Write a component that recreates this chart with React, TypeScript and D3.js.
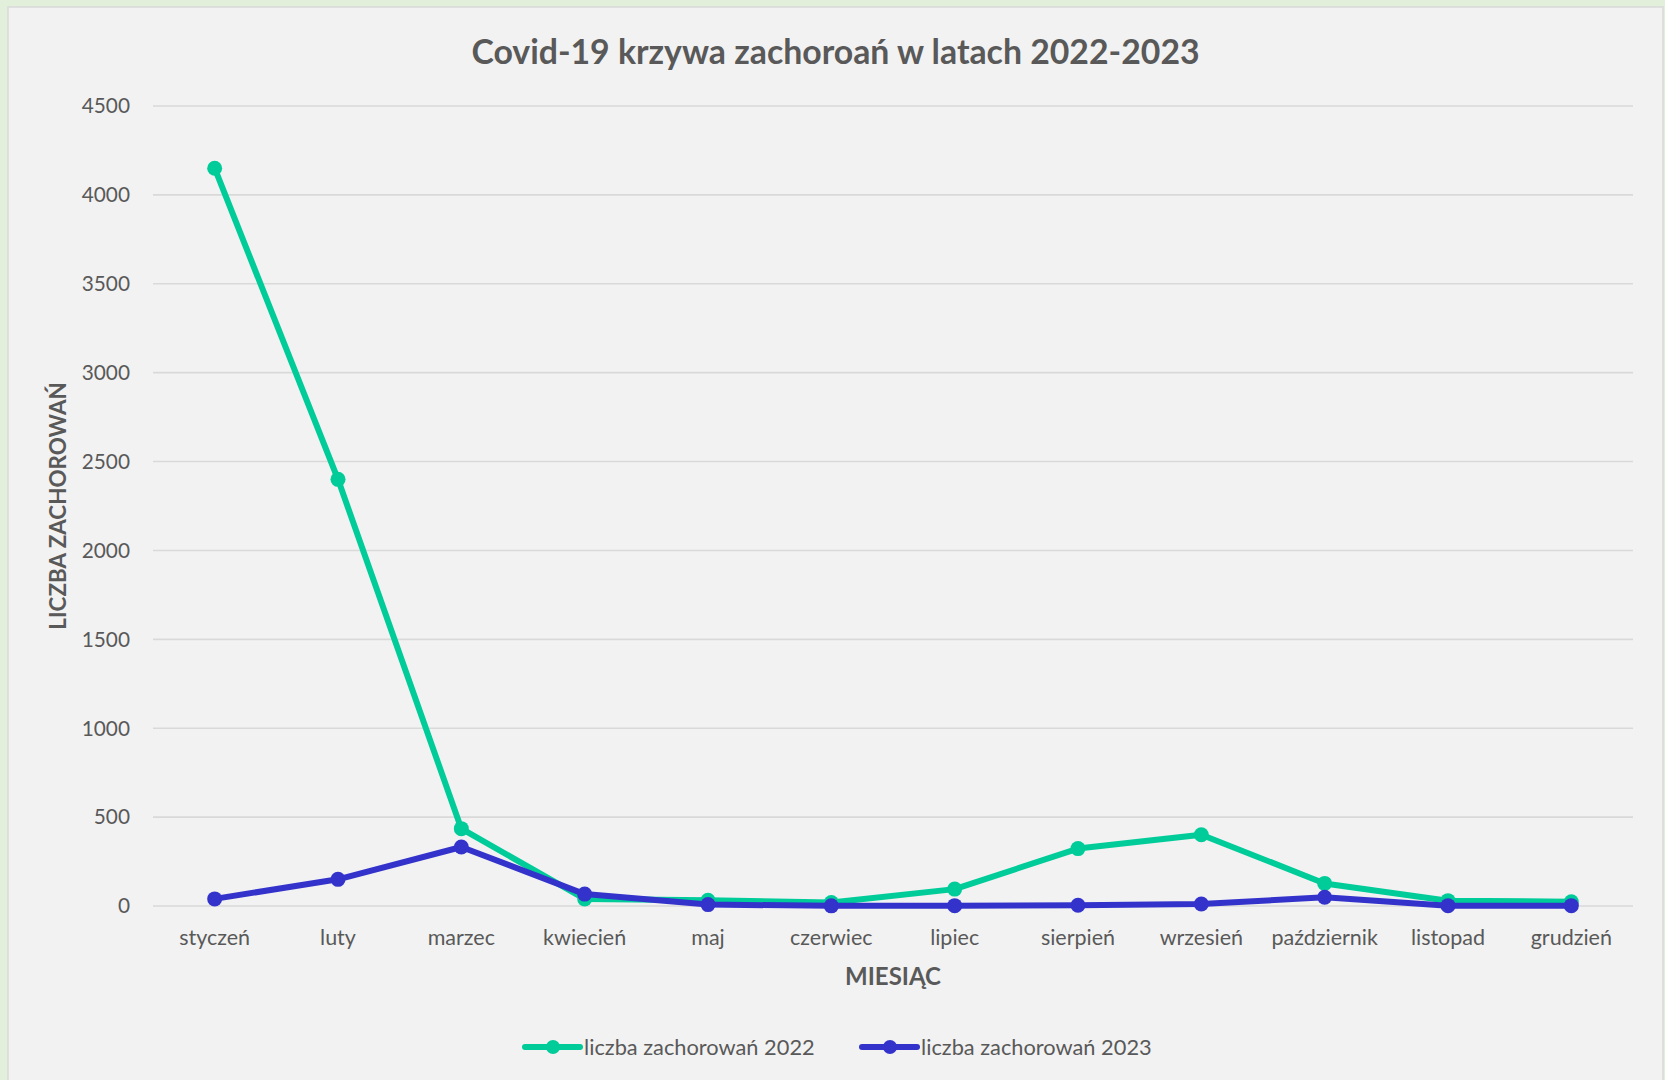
import React from "react";
import * as d3 from "d3";

const months = ["styczeń", "luty", "marzec", "kwiecień", "maj", "czerwiec", "lipiec", "sierpień", "wrzesień", "październik", "listopad", "grudzień"];
const cases2022 = [4150, 2400, 435, 40, 32, 20, 95, 323, 401, 127, 30, 24];
const cases2023 = [40, 150, 332, 67, 8, 1, 2, 4, 11, 49, 2, 2];
const yTicks = [0, 500, 1000, 1500, 2000, 2500, 3000, 3500, 4000, 4500];
const seriesNames = ["liczba zachorowań 2022", "liczba zachorowań 2023"];
const titleText = "Covid-19 krzywa zachoroań w latach 2022-2023";
const xTitle = "MIESIĄC";
const yTitle = "LICZBA ZACHOROWAŃ";

const W = 1665;
const H = 1080;
const FONT = "Lato, 'Open Sans', sans-serif";
const TXT = "#595959";
const COLORS = ["#00CC99", "#3333CC"];

export default function App() {
  const x = d3.scaleBand<string>().domain(months).range([153, 1633]).padding(0);
  const y = d3.scaleLinear().domain([0, 4500]).range([906, 106]);
  const cx = (m: string) => (x(m) as number) + x.bandwidth() / 2;
  const line = d3
    .line<number>()
    .x((_, i) => cx(months[i]))
    .y((d) => y(d));
  const series = [cases2022, cases2023];

  const legendItems = [
    { x0: 525, name: seriesNames[0], color: COLORS[0] },
    { x0: 862, name: seriesNames[1], color: COLORS[1] },
  ];

  return (
    <div style={{ position: "absolute", left: 0, top: 0 }}>
      <svg width={W} height={H} style={{ display: "block" }} fontFamily={FONT}>
        <rect x={0} y={0} width={W} height={H} fill="#E2EFDA" />
        <rect x={8} y={7} width={1655} height={1100} fill="#F2F2F2" stroke="#D9D9D9" strokeWidth={1.5} />
        <text x={835.5} y={64} textAnchor="middle" fontSize={33.8} fontWeight={700} fill={TXT}>
          {titleText}
        </text>
        {yTicks.map((t) => (
          <g key={t}>
            <line x1={153} x2={1633} y1={y(t)} y2={y(t)} stroke="#D9D9D9" strokeWidth={1.6} />
            <text x={130} y={y(t)} dy="0.35em" textAnchor="end" fontSize={20.8} fill={TXT}>
              {t}
            </text>
          </g>
        ))}
        {months.map((m) => (
          <text key={m} x={cx(m)} y={945} textAnchor="middle" fontSize={21.5} fill={TXT}>
            {m}
          </text>
        ))}
        <text x={893} y={985} textAnchor="middle" fontSize={24} fontWeight={700} fill={TXT}>
          {xTitle}
        </text>
        <text
          transform={`translate(66,506) rotate(-90)`}
          textAnchor="middle"
          fontSize={22.4}
          fontWeight={700}
          fill={TXT}
        >
          {yTitle}
        </text>
        {series.map((s, si) => (
          <g key={si}>
            <path d={line(s) || ""} fill="none" stroke={COLORS[si]} strokeWidth={6} strokeLinejoin="round" strokeLinecap="round" />
            {s.map((v, i) => (
              <circle key={i} cx={cx(months[i])} cy={y(v)} r={7.5} fill={COLORS[si]} />
            ))}
          </g>
        ))}
        {legendItems.map((it) => (
          <g key={it.name}>
            <line x1={it.x0} x2={it.x0 + 55} y1={1047} y2={1047} stroke={it.color} strokeWidth={6} strokeLinecap="round" />
            <circle cx={it.x0 + 28} cy={1047} r={7} fill={it.color} />
            <text x={it.x0 + 59} y={1047} dy="0.35em" fontSize={21.8} fill={TXT}>
              {it.name}
            </text>
          </g>
        ))}
      </svg>
    </div>
  );
}
